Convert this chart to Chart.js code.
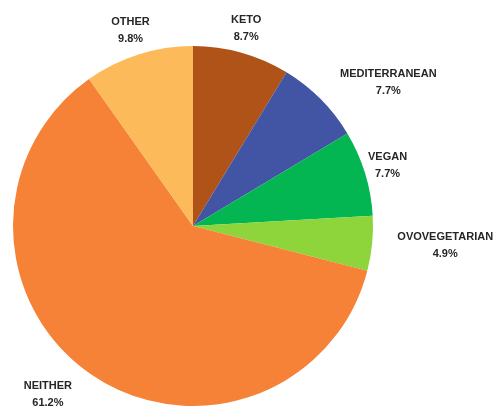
<!DOCTYPE html>
<html>
<head>
<meta charset="utf-8">
<script src="https://cdn.jsdelivr.net/npm/chart.js@4/dist/chart.umd.min.js"></script>
<style>
  html, body { margin: 0; padding: 0; background: #fff; }
  #wrap { width: 497px; height: 407px; position: relative; }
</style>
</head>
<body>
<div id="wrap"><canvas id="dietChart"></canvas></div>
<script>
// Diet survey shares, clockwise from 12 o'clock
const diets = ['KETO', 'MEDITERRANEAN', 'VEGAN', 'OVOVEGETARIAN', 'NEITHER', 'OTHER'];
const shares = [8.7, 7.7, 7.7, 4.9, 61.2, 9.8];
const sliceColors = ['#B05318', '#4155A4', '#04B652', '#8DD53A', '#F58236', '#FCBA5A'];

// small nudges for the outside labels (px), same order as diets
const labelNudge = [[-2, -1], [32, 18], [-4, 0], [20, -4], [-25, -6], [0, 0]];

const outsideLabels = {
  id: 'outsideLabels',
  afterDatasetsDraw(chart) {
    const ctx = chart.ctx;
    const meta = chart.getDatasetMeta(0);
    ctx.save();
    ctx.font = 'bold 11px "Liberation Sans", Arial, sans-serif';
    ctx.fillStyle = '#262626';
    ctx.textAlign = 'center';
    ctx.textBaseline = 'middle';
    meta.data.forEach((arc, i) => {
      const { x, y, startAngle, endAngle, outerRadius } = arc.getProps(['x', 'y', 'startAngle', 'endAngle', 'outerRadius'], true);
      const mid = (startAngle + endAngle) / 2;
      const dx = Math.cos(mid), dy = Math.sin(mid);
      const pct = shares[i].toFixed(1) + '%';
      const w = Math.max(ctx.measureText(diets[i]).width, ctx.measureText(pct).width);
      const h = 34;
      const dist = outerRadius + 4 + Math.abs(dx) * w / 2 + Math.abs(dy) * h / 2;
      const cx = x + dx * dist + labelNudge[i][0];
      const cy = y + dy * dist + labelNudge[i][1];
      ctx.fillText(diets[i], cx, cy - 8);
      ctx.fillText(pct, cx, cy + 9);
    });
    ctx.restore();
  }
};

new Chart(document.getElementById('dietChart'), {
  type: 'pie',
  data: {
    labels: diets,
    datasets: [{
      data: shares,
      backgroundColor: sliceColors,
      borderWidth: 0
    }]
  },
  options: {
    responsive: true,
    maintainAspectRatio: false,
    animation: false,
    layout: { padding: { top: 46, bottom: 1, left: 13, right: 124 } },
    plugins: {
      legend: { display: false },
      tooltip: { enabled: false }
    }
  },
  plugins: [outsideLabels]
});
</script>
</body>
</html>
